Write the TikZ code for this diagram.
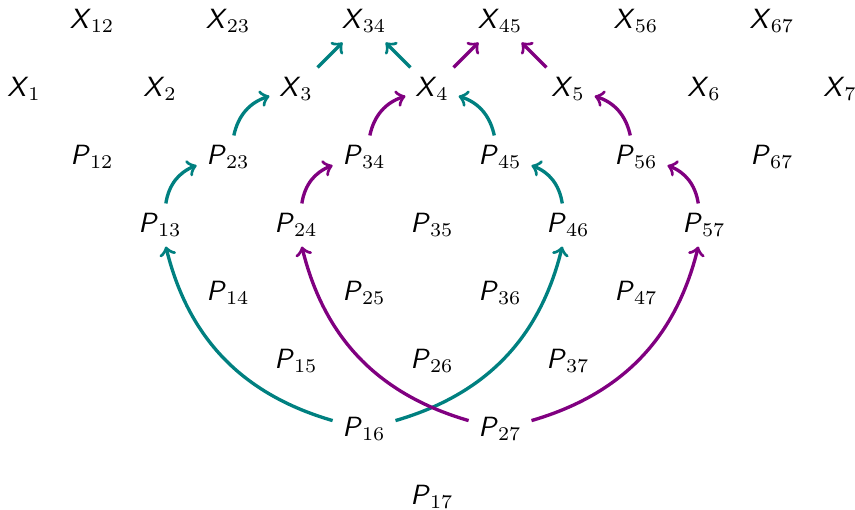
\documentclass[tikz,border=0pt]{standalone}
\usepackage{tikz}

\definecolor{pteal}{RGB}{0,128,128}
\definecolor{ppurple}{RGB}{128,0,128}
\newcommand{\sfX}{\textsf{\textit{X}}}
\newcommand{\sfP}{\textsf{\textit{P}}}

\tikzset{
  tealarrow/.style={->, very thick, pteal},
  purplearrow/.style={->, very thick, ppurple}
}

\begin{document}
\begin{tikzpicture}[x=0.86cm, y=0.86cm]
    \useasboundingbox (-0.354,0.309) rectangle (12.22,-7.19);

    % top row: X_{i,i+1}
    \node (X12) at (1,0) {$\sfX_{12}$};
    \node (X23) at (3,0) {$\sfX_{23}$};
    \node (X34) at (5,0) {$\sfX_{34}$};
    \node (X45) at (7,0) {$\sfX_{45}$};
    \node (X56) at (9,0) {$\sfX_{56}$};
    \node (X67) at (11,0) {$\sfX_{67}$};

    % second row: X_i
    \node (X1) at (0,-1) {$\sfX_{1}$};
    \node (X2) at (2,-1) {$\sfX_{2}$};
    \node (X3) at (4,-1) {$\sfX_{3}$};
    \node (X4) at (6,-1) {$\sfX_{4}$};
    \node (X5) at (8,-1) {$\sfX_{5}$};
    \node (X6) at (10,-1) {$\sfX_{6}$};
    \node (X7) at (12,-1) {$\sfX_{7}$};

    % P_{ij} rows
    \node (P12) at (1,-2) {$\sfP_{12}$};
    \node (P23) at (3,-2) {$\sfP_{23}$};
    \node (P34) at (5,-2) {$\sfP_{34}$};
    \node (P45) at (7,-2) {$\sfP_{45}$};
    \node (P56) at (9,-2) {$\sfP_{56}$};
    \node (P67) at (11,-2) {$\sfP_{67}$};

    \node (P13) at (2,-3) {$\sfP_{13}$};
    \node (P24) at (4,-3) {$\sfP_{24}$};
    \node (P35) at (6,-3) {$\sfP_{35}$};
    \node (P46) at (8,-3) {$\sfP_{46}$};
    \node (P57) at (10,-3) {$\sfP_{57}$};

    \node (P14) at (3,-4) {$\sfP_{14}$};
    \node (P25) at (5,-4) {$\sfP_{25}$};
    \node (P36) at (7,-4) {$\sfP_{36}$};
    \node (P47) at (9,-4) {$\sfP_{47}$};

    \node (P15) at (4,-5) {$\sfP_{15}$};
    \node (P26) at (6,-5) {$\sfP_{26}$};
    \node (P37) at (8,-5) {$\sfP_{37}$};

    \node (P16) at (5,-6) {$\sfP_{16}$};
    \node (P27) at (7,-6) {$\sfP_{27}$};

    \node (P17) at (6,-7) {$\sfP_{17}$};

    % teal paths
    \draw[tealarrow] (P16) to[bend left] (P13);
    \draw[tealarrow] (P13) to[bend left] (P23);
    \draw[tealarrow] (P23) to[bend left] (X3);
    \draw[tealarrow] (X3) -- (X34);
    \draw[tealarrow] (P16) to[bend right] (P46);
    \draw[tealarrow] (P46) to[bend right] (P45);
    \draw[tealarrow] (P45) to[bend right] (X4);
    \draw[tealarrow] (X4) -- (X34);

    % purple paths
    \draw[purplearrow] (P27) to[bend left] (P24);
    \draw[purplearrow] (P24) to[bend left] (P34);
    \draw[purplearrow] (P34) to[bend left] (X4);
    \draw[purplearrow] (X4) -- (X45);
    \draw[purplearrow] (P27) to[bend right] (P57);
    \draw[purplearrow] (P57) to[bend right] (P56);
    \draw[purplearrow] (P56) to[bend right] (X5);
    \draw[purplearrow] (X5) -- (X45);

\end{tikzpicture}
\end{document}
